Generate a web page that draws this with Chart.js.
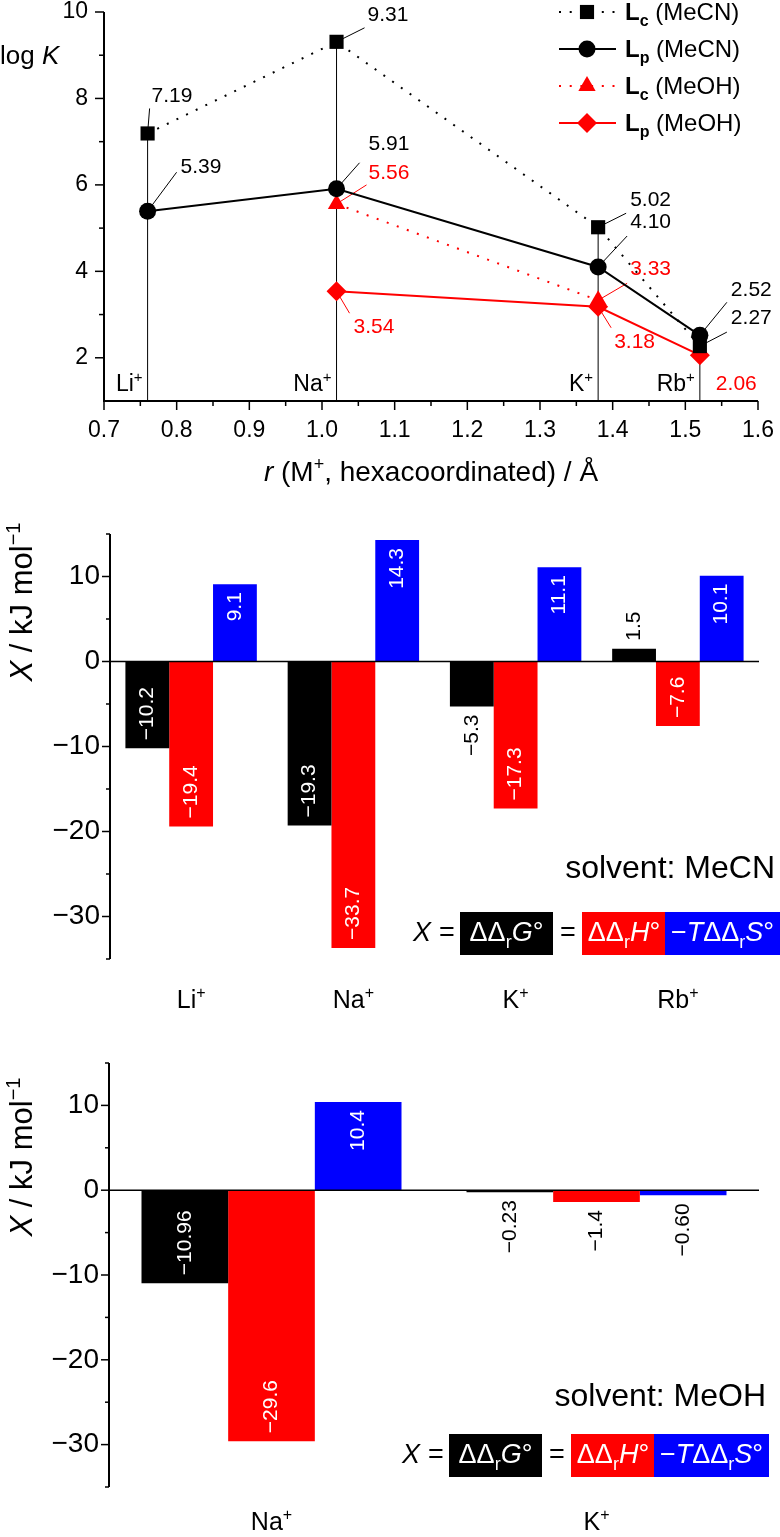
<!DOCTYPE html>
<html>
<head>
<meta charset="utf-8">
<script src="https://cdn.jsdelivr.net/npm/chart.js@4.4.1/dist/chart.umd.min.js"></script>
<style>
  html, body { margin: 0; padding: 0; background: #fff; }
  .panel { position: absolute; left: 0; }
  canvas { display: block; }
</style>
</head>
<body>
<div class="panel" style="top:0"><canvas id="logk" width="780" height="500"></canvas></div>
<div class="panel" style="top:500px"><canvas id="mecn" width="780" height="530"></canvas></div>
<div class="panel" style="top:1030px"><canvas id="meoh" width="780" height="507"></canvas></div>
<script>
const FONT = '"Liberation Sans", Arial, Helvetica, sans-serif';
const BLACK = '#000000';
const RED = '#ff0000';
const BLUE = '#0000ff';

// log K against ionic radius
const cations = ['Li', 'Na', 'K', 'Rb'];
const radii = [0.76, 1.02, 1.38, 1.52];
const logK_Lc_MeCN = [7.19, 9.31, 5.02, 2.27];
const logK_Lp_MeCN = [5.39, 5.91, 4.10, 2.52];
const logK_Lc_MeOH = [null, 5.56, 3.33, null];
const logK_Lp_MeOH = [null, 3.54, 3.18, 2.06];
const radiusTicks = [0.7, 0.8, 0.9, 1.0, 1.1, 1.2, 1.3, 1.4, 1.5, 1.6];
const radiusMinor = [0.75, 0.85, 0.95, 1.05, 1.15, 1.25, 1.35, 1.45, 1.55];
const logKTicks = [2, 4, 6, 8, 10];
const logKMinor = [3, 5, 7, 9];

// thermodynamic terms, MeCN
const cationsMeCN = ['Li', 'Na', 'K', 'Rb'];
const dG_MeCN = [-10.2, -19.3, -5.3, 1.5];
const dH_MeCN = [-19.4, -33.7, -17.3, -7.6];
const TdS_MeCN = [9.1, 14.3, 11.1, 10.1];

// thermodynamic terms, MeOH
const cationsMeOH = ['Na', 'K'];
const dG_MeOH = [-10.96, -0.23];
const dH_MeOH = [-29.6, -1.4];
const TdS_MeOH = [10.4, -0.60];

const energyTicks = [-30, -20, -10, 0, 10];
const energyMinor = [-35, -25, -15, -5, 5, 15];

function fmt(v, d) {
    return (v < 0 ? '\u2212' : '') + Math.abs(v).toFixed(d);
}

// draws a run of text pieces (italic, bold, sub, sup) on one baseline
function rich(ctx, parts, x, y, size, align) {
    const font = p => (p.i ? 'italic ' : '') + (p.b ? 'bold ' : '') +
        ((p.sub || p.sup) ? Math.round(size * 0.65) : size) + 'px ' + FONT;
    let w = 0;
    for (const p of parts) { ctx.font = font(p); w += ctx.measureText(p.t).width; }
    let cx = align === 'center' ? x - w / 2 : align === 'right' ? x - w : x;
    ctx.textAlign = 'left';
    ctx.textBaseline = 'alphabetic';
    for (const p of parts) {
        ctx.font = font(p);
        const dy = p.sub ? size * 0.25 : p.sup ? -size * 0.4 : 0;
        ctx.fillText(p.t, cx, y + dy);
        cx += ctx.measureText(p.t).width;
    }
}

function tick(ctx, x1, y1, x2, y2) {
    ctx.beginPath();
    ctx.moveTo(x1, y1);
    ctx.lineTo(x2, y2);
    ctx.stroke();
}

// ---------- top panel ----------
function pts(vals) {
    return radii.map((r, i) => ({ x: r, y: vals[i] }));
}

const logKSets = [logK_Lc_MeCN, logK_Lp_MeCN, logK_Lc_MeOH, logK_Lp_MeOH];

const logKDecor = {
    id: 'logKDecor',
    beforeDatasetsDraw(chart) {
        const { ctx, scales: { x, y } } = chart;
        ctx.save();
        ctx.lineWidth = 1;
        ctx.strokeStyle = BLACK;
        radii.forEach((r, i) => {
            const tops = logKSets.map(s => s[i]).filter(v => v !== null);
            const px = x.getPixelForValue(r);
            tick(ctx, px, y.getPixelForValue(1), px, y.getPixelForValue(Math.max(...tops)));
        });
        chart.data.datasets.forEach((ds, di) => {
            const meta = chart.getDatasetMeta(di);
            ds.tips.forEach((tip, i) => {
                if (!tip || tip[2] === null || ds.data[i].y === null) return;
                const pt = meta.data[i];
                ctx.strokeStyle = ds.borderColor;
                tick(ctx, pt.x, pt.y, pt.x + tip[2], pt.y + tip[3]);
            });
        });
        ctx.restore();
    },
    afterDatasetsDraw(chart) {
        const { ctx, chartArea: a, scales: { x, y } } = chart;
        ctx.save();
        // axes
        ctx.strokeStyle = BLACK;
        ctx.lineWidth = 2;
        tick(ctx, a.left, a.top, a.left, a.bottom + 1);
        tick(ctx, a.left - 1, a.bottom, a.right, a.bottom);
        ctx.lineWidth = 1.5;
        y.ticks.forEach(t => { const py = y.getPixelForValue(t.value); tick(ctx, a.left - 9, py, a.left, py); });
        logKMinor.forEach(v => { const py = y.getPixelForValue(v); tick(ctx, a.left - 5, py, a.left, py); });
        x.ticks.forEach(t => { const px = x.getPixelForValue(t.value); tick(ctx, px, a.bottom, px, a.bottom + 9); });
        radiusMinor.forEach(v => { const px = x.getPixelForValue(v); tick(ctx, px, a.bottom, px, a.bottom + 5); });
        ctx.fillStyle = BLACK;
        ctx.font = '23px ' + FONT;
        ctx.textBaseline = 'middle';
        ctx.textAlign = 'right';
        y.ticks.forEach(t => ctx.fillText(String(t.value), a.left - 16, y.getPixelForValue(t.value)));
        ctx.textAlign = 'center';
        x.ticks.forEach(t => ctx.fillText(t.value.toFixed(1), x.getPixelForValue(t.value), a.bottom + 30));

        // cation names next to the drop lines
        radii.forEach((r, i) => {
            rich(ctx, [{ t: cations[i] }, { t: '+', sup: true }], x.getPixelForValue(r) - 5, a.bottom - 10, 23, 'right');
        });

        // value labels
        chart.data.datasets.forEach((ds, di) => {
            const meta = chart.getDatasetMeta(di);
            ds.tips.forEach((tip, i) => {
                if (!tip || ds.data[i].y === null) return;
                const pt = meta.data[i];
                ctx.fillStyle = ds.borderColor;
                ctx.font = '21px ' + FONT;
                ctx.textAlign = 'left';
                ctx.textBaseline = 'middle';
                ctx.fillText(ds.data[i].y.toFixed(2), pt.x + tip[0], pt.y + tip[1]);
            });
        });

        // legend
        const rows = [12, 49, 86, 123];
        chart.data.datasets.forEach((ds, di) => {
            const yc = rows[di];
            ctx.strokeStyle = ds.borderColor;
            ctx.lineWidth = ds.borderWidth;
            ctx.setLineDash(ds.borderDash || []);
            tick(ctx, 559, yc, 616, yc);
            ctx.setLineDash([]);
            ctx.fillStyle = ds.backgroundColor;
            Chart.helpers.drawPoint(ctx, { pointStyle: ds.pointStyle, radius: ds.pointRadius, rotation: 0, borderWidth: 0 }, 587, yc);
            ctx.fillStyle = BLACK;
            rich(ctx, [{ t: 'L', b: true }, { t: ds.sub, b: true, sub: true }, { t: ' (' + ds.solv + ')' }], 625, yc + 8, 24, 'left');
        });

        // axis titles
        ctx.fillStyle = BLACK;
        rich(ctx, [{ t: 'log ' }, { t: 'K', i: true }], 0, 64, 26, 'left');
        rich(ctx, [{ t: 'r', i: true }, { t: ' (M' }, { t: '+', sup: true }, { t: ', hexacoordinated) / \u00c5' }],
            (a.left + a.right) / 2, 481, 28, 'center');
        ctx.restore();
    }
};

new Chart(document.getElementById('logk'), {
    type: 'line',
    data: {
        datasets: [
            {
                sub: 'c', solv: 'MeCN', data: pts(logK_Lc_MeCN),
                borderColor: BLACK, backgroundColor: BLACK, borderWidth: 2, borderDash: [2, 8.7],
                pointStyle: 'rect', pointRadius: 10,
                tips: [[4, -37, 2, -25], [31, -27, 28, -14], [32, -27, 28, -14], [31, -28, 27, -14]]
            },
            {
                sub: 'p', solv: 'MeCN', data: pts(logK_Lp_MeCN),
                borderColor: BLACK, backgroundColor: BLACK, borderWidth: 2,
                pointStyle: 'circle', pointRadius: 8.5,
                tips: [[33, -44, 29, -39], [32, -45, 23, -26], [32, -45, 29, -31], [31, -45, 27, -33]]
            },
            {
                sub: 'c', solv: 'MeOH', data: pts(logK_Lc_MeOH),
                borderColor: RED, backgroundColor: RED, borderWidth: 2, borderDash: [2, 8.7],
                pointStyle: 'triangle', pointRadius: 10,
                tips: [null, [32, -31, 30, -19], [32, -31, 29, -17], null]
            },
            {
                sub: 'p', solv: 'MeOH', data: pts(logK_Lp_MeOH),
                borderColor: RED, backgroundColor: RED, borderWidth: 2,
                pointStyle: 'rectRot', pointRadius: 10,
                tips: [null, [17, 36, 13, 22], [16, 35, 13, 21], [16, 29, null, null]]
            }
        ].map(d => Object.assign({ pointBorderWidth: 0, pointBackgroundColor: d.backgroundColor, tension: 0, clip: false }, d))
    },
    options: {
        responsive: false,
        animation: false,
        events: [],
        layout: { padding: { top: 12, right: 22, left: 0, bottom: 0 } },
        plugins: { legend: { display: false }, tooltip: { enabled: false } },
        scales: {
            x: {
                type: 'linear', min: 0.7, max: 1.6,
                grid: { display: false, drawTicks: false }, border: { display: false }, ticks: { display: false },
                afterBuildTicks: s => { s.ticks = radiusTicks.map(v => ({ value: v })); },
                afterFit: s => { s.height = 99; }
            },
            y: {
                min: 1, max: 10,
                grid: { display: false, drawTicks: false }, border: { display: false }, ticks: { display: false },
                afterBuildTicks: s => { s.ticks = logKTicks.map(v => ({ value: v })); },
                afterFit: s => { s.width = 104; }
            }
        }
    },
    plugins: [logKDecor]
});

// ---------- bar panels ----------
function drawEquation(ctx, x0, top) {
    const size = 27;
    const base = top + 29;
    const h = 43;
    ctx.fillStyle = BLACK;
    rich(ctx, [{ t: 'X', i: true }], x0, base, size, 'left');
    rich(ctx, [{ t: '=' }], x0 + 34, base, size, 'center');
    rich(ctx, [{ t: '=' }], x0 + 155, base, size, 'center');
    ctx.fillRect(x0 + 47, top, 93, h);
    ctx.fillStyle = RED;
    ctx.fillRect(x0 + 169, top, 84, h);
    ctx.fillStyle = BLUE;
    ctx.fillRect(x0 + 252, top, 115, h);
    ctx.fillStyle = '#ffffff';
    rich(ctx, [{ t: '\u0394\u0394' }, { t: 'r', sub: true }, { t: 'G', i: true }, { t: '\u00b0' }], x0 + 47 + 46.5, base, size, 'center');
    rich(ctx, [{ t: '\u0394\u0394' }, { t: 'r', sub: true }, { t: 'H', i: true }, { t: '\u00b0' }], x0 + 169 + 42, base, size, 'center');
    rich(ctx, [{ t: '\u2212' }, { t: 'T', i: true }, { t: '\u0394\u0394' }, { t: 'r', sub: true }, { t: 'S', i: true }, { t: '\u00b0' }],
        x0 + 252 + 57.5, base, size, 'center');
}

function barDecor(o) {
    return {
        id: 'barDecor',
        afterDatasetsDraw(chart) {
            const { ctx, chartArea: a, scales: { x, y } } = chart;
            ctx.save();
            ctx.strokeStyle = BLACK;
            ctx.lineWidth = 1.5;
            const zero = y.getPixelForValue(0);
            tick(ctx, a.left, zero, a.right, zero);
            ctx.lineWidth = 2;
            tick(ctx, a.left, a.top, a.left, a.bottom);
            ctx.lineWidth = 1.5;
            y.ticks.forEach(t => { const py = y.getPixelForValue(t.value); tick(ctx, a.left - 8, py, a.left, py); });
            energyMinor.forEach(v => { const py = y.getPixelForValue(v); tick(ctx, a.left - 4, py, a.left, py); });

            ctx.fillStyle = BLACK;
            ctx.font = '28px ' + FONT;
            ctx.textAlign = 'right';
            ctx.textBaseline = 'middle';
            y.ticks.forEach(t => ctx.fillText(fmt(t.value, 0), a.left - 10, y.getPixelForValue(t.value)));

            chart.data.labels.forEach((c, i) => {
                rich(ctx, [{ t: c }, { t: '+', sup: true }], x.getPixelForValue(i), o.catBase, 25, 'center');
            });

            // rotated axis title
            ctx.save();
            ctx.translate(32, o.titleY);
            ctx.rotate(-Math.PI / 2);
            rich(ctx, [{ t: 'X', i: true }, { t: ' / kJ mol' }, { t: '\u22121', sup: true }], 0, 0, 31, 'center');
            ctx.restore();

            // bar values, rotated, inside the bar when there is room
            const pad = 8;
            chart.data.datasets.forEach((ds, di) => {
                const meta = chart.getDatasetMeta(di);
                meta.data.forEach((bar, i) => {
                    const v = ds.data[i];
                    const txt = fmt(v, ds.digits[i]);
                    ctx.font = '21px ' + FONT;
                    const tw = ctx.measureText(txt).width;
                    const inside = Math.abs(bar.base - bar.y) >= tw + 2 * pad;
                    const neg = v < 0;
                    let ay, align;
                    if (inside) { ay = neg ? bar.y - pad : bar.y + pad; align = neg ? 'left' : 'right'; }
                    else { ay = neg ? bar.y + pad : bar.y - pad; align = neg ? 'right' : 'left'; }
                    ctx.save();
                    ctx.translate(bar.x, ay);
                    ctx.rotate(-Math.PI / 2);
                    ctx.textAlign = align;
                    ctx.textBaseline = 'middle';
                    ctx.fillStyle = inside ? '#ffffff' : BLACK;
                    ctx.fillText(txt, 0, 0);
                    ctx.restore();
                });
            });

            ctx.fillStyle = BLACK;
            rich(ctx, [{ t: 'solvent: ' + o.solvent }], o.solventRight, o.solventY, 32, 'right');
            drawEquation(ctx, o.eqX, o.eqTop);
            ctx.restore();
        }
    };
}

function makeBars(id, cats, sets, o) {
    return new Chart(document.getElementById(id), {
        type: 'bar',
        data: {
            labels: cats,
            datasets: sets.map(s => ({
                data: s.data, digits: s.digits, backgroundColor: s.color, borderWidth: 0,
                categoryPercentage: o.catPct, barPercentage: 1
            }))
        },
        options: {
            responsive: false,
            animation: false,
            events: [],
            layout: { padding: { top: o.top, right: 21, left: 0, bottom: 0 } },
            plugins: { legend: { display: false }, tooltip: { enabled: false } },
            scales: {
                x: {
                    grid: { display: false, drawTicks: false }, border: { display: false }, ticks: { display: false },
                    afterFit: s => { s.height = o.xAxisH; }
                },
                y: {
                    min: -35, max: 15,
                    grid: { display: false, drawTicks: false }, border: { display: false }, ticks: { display: false },
                    afterBuildTicks: s => { s.ticks = energyTicks.map(v => ({ value: v })); },
                    afterFit: s => { s.width = o.left; }
                }
            }
        },
        plugins: [barDecor(o)]
    });
}

makeBars('mecn', cationsMeCN, [
    { data: dG_MeCN, color: BLACK, digits: [1, 1, 1, 1] },
    { data: dH_MeCN, color: RED, digits: [1, 1, 1, 1] },
    { data: TdS_MeCN, color: BLUE, digits: [1, 1, 1, 1] }
], {
    top: 34, xAxisH: 71, left: 110, catPct: 0.81, titleY: 102, catBase: 508,
    solvent: 'MeCN', solventRight: 775, solventY: 378, eqX: 413, eqTop: 412
});

makeBars('meoh', cationsMeOH, [
    { data: dG_MeOH, color: BLACK, digits: [2, 2] },
    { data: dH_MeOH, color: RED, digits: [1, 1] },
    { data: TdS_MeOH, color: BLUE, digits: [1, 2] }
], {
    top: 33, xAxisH: 50, left: 109, catPct: 0.8, titleY: 127, catBase: 500,
    solvent: 'MeOH', solventRight: 766, solventY: 376, eqX: 402, eqTop: 404
});
</script>
</body>
</html>
